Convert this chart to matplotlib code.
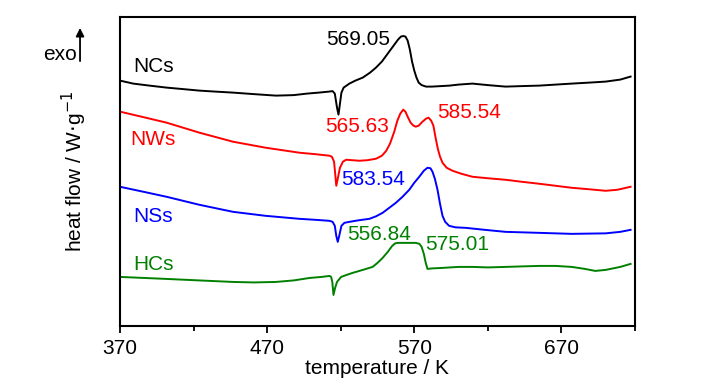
import matplotlib
matplotlib.use("Agg")
import matplotlib.pyplot as plt
from matplotlib.ticker import FixedLocator

plt.rcParams['font.family'] = ['Liberation Sans', 'DejaVu Sans']

# DSC curves (temperature in K, heat flow in arbitrary offset units)
t_ncs = [370, 379, 390, 401.7, 413, 424, 435, 447, 461, 476, 488, 497, 505, 512, 514.5, 516,
         517.5, 518.5, 519.5, 520.5, 522, 525.9, 530, 535, 540, 544, 548, 553, 556, 559, 561,
         562.5, 564, 565.5, 567, 568.5, 570, 571.5, 573, 575, 578, 582, 588, 594, 600, 609.5,
         620, 632, 643, 655, 666, 677, 689, 700, 710, 717]
hf_ncs = [2.45, 2.42, 2.40, 2.38, 2.365, 2.35, 2.34, 2.33, 2.315, 2.30, 2.305, 2.32, 2.33, 2.34,
          2.345, 2.32, 2.18, 2.11, 2.22, 2.33, 2.38, 2.42, 2.45, 2.48, 2.53, 2.58, 2.64, 2.74,
          2.80, 2.86, 2.89, 2.895, 2.89, 2.85, 2.76, 2.64, 2.55, 2.48, 2.43, 2.405, 2.39, 2.39,
          2.395, 2.40, 2.41, 2.42, 2.405, 2.39, 2.395, 2.40, 2.41, 2.42, 2.43, 2.44, 2.46, 2.49]

t_nws = [370, 386, 401.7, 424, 446.8, 469, 492, 503, 512.4, 514, 515.5, 516.5, 517, 518, 519.5,
         521.5, 523.7, 528, 532.7, 538, 544, 548, 551, 553.5, 556.4, 558.5, 560.5, 562.5, 564,
         565.5, 567.5, 569.5, 571, 573, 575.6, 578, 579.7, 581.5, 583, 584.5, 586, 587.5, 589.2,
         592, 596, 602, 609.5, 620, 632, 643, 655, 666, 677, 689, 700, 708, 717]
hf_nws = [2.14, 2.085, 2.03, 1.93, 1.84, 1.78, 1.73, 1.715, 1.70, 1.69, 1.64, 1.48, 1.40, 1.47,
          1.58, 1.64, 1.66, 1.655, 1.65, 1.655, 1.67, 1.70, 1.75, 1.82, 1.94, 2.05, 2.12, 2.16,
          2.14, 2.09, 2.03, 2.00, 1.99, 2.00, 2.04, 2.07, 2.08, 2.05, 2.00, 1.88, 1.77, 1.69,
          1.63, 1.58, 1.55, 1.52, 1.49, 1.475, 1.46, 1.44, 1.42, 1.40, 1.38, 1.365, 1.35, 1.36,
          1.39]

t_nss = [370, 386, 401.7, 424, 446.8, 469, 492, 503, 512.4, 514.5, 516, 517, 518, 519, 520.5,
         522.5, 526, 532, 539.5, 544, 548.5, 553, 557.5, 562, 566.6, 570, 573.4, 576.5, 579, 581,
         582.4, 584, 585.8, 587.5, 589.2, 591, 593.7, 598, 605, 618, 632, 655, 677, 700, 710, 717]
hf_nss = [1.39, 1.34, 1.29, 1.21, 1.14, 1.10, 1.07, 1.06, 1.05, 1.04, 1.00, 0.90, 0.84, 0.90,
          1.00, 1.03, 1.04, 1.055, 1.07, 1.095, 1.13, 1.18, 1.23, 1.29, 1.36, 1.43, 1.49, 1.55,
          1.58, 1.575, 1.54, 1.47, 1.36, 1.22, 1.10, 1.04, 1.00, 0.985, 0.98, 0.96, 0.94, 0.93,
          0.92, 0.925, 0.94, 0.96]

t_hcs = [370, 386, 401.7, 424, 446.8, 461, 476, 488, 499, 507, 512.4, 513.5, 514.3, 515.1,
         516.2, 517.5, 520.3, 524, 528, 535, 541.7, 545, 548.5, 552, 555, 557, 559, 565, 571,
         573.5, 575, 576.5, 577.8, 579, 582, 589, 600, 609.5, 620, 632, 643, 655, 666, 677, 686,
         693, 700, 710, 717]
hf_hcs = [0.49, 0.48, 0.47, 0.455, 0.44, 0.435, 0.44, 0.455, 0.48, 0.49, 0.50, 0.49, 0.44, 0.31,
          0.38, 0.44, 0.49, 0.51, 0.53, 0.56, 0.59, 0.63, 0.68, 0.74, 0.80, 0.825, 0.83, 0.83,
          0.83, 0.82, 0.79, 0.72, 0.63, 0.57, 0.575, 0.58, 0.59, 0.59, 0.585, 0.59, 0.595, 0.60,
          0.60, 0.59, 0.57, 0.55, 0.56, 0.59, 0.62]

names = ['NCs', 'NWs', 'NSs', 'HCs']
colors = ['black', 'red', 'blue', 'green']
name_pos = [(378.8, 2.59), (376.8, 1.86), (378.8, 1.09), (378.8, 0.61)]

# peak labels: text, x, y, colour index, alignment
peak_labels = [
    ('569.05', 553.7, 2.86, 0, 'right'),
    ('565.63', 553.1, 1.99, 1, 'right'),
    ('585.54', 585.6, 2.13, 1, 'left'),
    ('583.54', 520.5, 1.46, 2, 'left'),
    ('556.84', 524.6, 0.91, 3, 'left'),
    ('575.01', 577.5, 0.81, 3, 'left'),
]

major_ticks = [370, 470, 570, 670]
minor_ticks = [420, 520, 620, 720]


def main():
    fig = plt.figure(figsize=(7.21, 3.87), dpi=100)
    ax = fig.add_axes([0.1664, 0.1576, 0.7143, 0.7972])

    curves = [(t_ncs, hf_ncs), (t_nws, hf_nws), (t_nss, hf_nss), (t_hcs, hf_hcs)]
    for (t, hf), c in zip(curves, colors):
        ax.plot(t, hf, color=c, lw=1.4)

    for name, (x, y), c in zip(names, name_pos, colors):
        ax.text(x, y, name, color=c, fontsize=15, ha='left', va='center')

    for txt, x, y, ci, ha in peak_labels:
        ax.text(x, y, txt, color=colors[ci], fontsize=15, ha=ha, va='center')

    ax.set_xlim(370, 720)
    ax.set_ylim(0, 3.08)
    ax.set_xticks(major_ticks)
    ax.xaxis.set_minor_locator(FixedLocator(minor_ticks))
    ax.tick_params(axis='x', which='major', direction='out', length=5, width=1.3, labelsize=15, pad=4)
    ax.tick_params(axis='x', which='minor', direction='out', length=3.5, width=1.3)
    ax.set_yticks([])
    for s in ax.spines.values():
        s.set_linewidth(1.5)

    ax.set_xlabel('temperature / K', fontsize=15, labelpad=1)
    ax.set_ylabel(r'heat flow / W$\cdot$g$^{-1}$', fontsize=15, labelpad=22)

    # exo arrow outside the axes
    fig.text(0.107, 0.858, 'exo', fontsize=15, ha='right', va='center')
    ax.annotate('', xy=(0.111, 0.935), xytext=(0.111, 0.835),
                xycoords='figure fraction', textcoords='figure fraction',
                arrowprops=dict(arrowstyle='-|>', color='black', lw=1.3, mutation_scale=12))

    fig.savefig('out.png', dpi=100)


if __name__ == '__main__':
    main()
